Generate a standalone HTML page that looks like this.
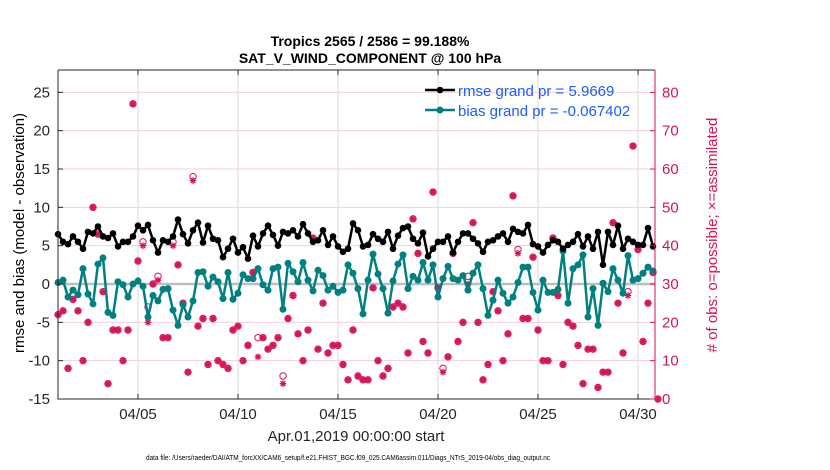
<!DOCTYPE html>
<html><head><meta charset="utf-8"><style>
body{margin:0;background:#fff;}
svg{display:block;font-family:"Liberation Sans",sans-serif;}
</style></head><body>
<svg id="chart" width="830" height="470" viewBox="0 0 830 470">
<text x="370" y="46" text-anchor="middle" font-size="14" font-weight="bold">Tropics 2565 / 2586 = 99.188%</text>
<text x="370" y="63" text-anchor="middle" font-size="14" font-weight="bold">SAT_V_WIND_COMPONENT @ 100 hPa</text>
<g id="grid"></g>
<g id="marks"></g>
<g id="axes"></g>
<text transform="translate(24,233) rotate(-90)" text-anchor="middle" font-size="15">rmse and bias (model - observation)</text>
<text transform="translate(717,235) rotate(-90)" text-anchor="middle" font-size="15" fill="#d6135a"># of obs: o=possible; ×=assimilated</text>
<text x="356" y="441" text-anchor="middle" font-size="15" fill="#262626">Apr.01,2019 00:00:00 start</text>
<text x="348" y="460" text-anchor="middle" font-size="7" fill="#000" textLength="404" lengthAdjust="spacingAndGlyphs">data file: /Users/raeder/DAI/ATM_forcXX/CAM6_setup/f.e21.FHIST_BGC.f09_025.CAM6assim.011/Diags_NTrS_2019-04/obs_diag_output.nc</text>
<g>
<line x1="425" y1="90" x2="455" y2="90" stroke="#000" stroke-width="2.5"/><circle cx="440" cy="90" r="3.3" fill="#000"/>
<text x="458" y="96" font-size="15" fill="#1a5cff">rmse grand pr = 5.9669</text>
<line x1="425" y1="110" x2="455" y2="110" stroke="#008080" stroke-width="2.5"/><circle cx="440" cy="110" r="3.5" fill="#008080"/>
<text x="458" y="116" font-size="15" fill="#1a5cff">bias grand pr = -0.067402</text>
</g>
</svg>
<script>
const rmse=[6.5,5.5,5.2,6.2,5.5,4.6,6.8,6.6,7.5,6.2,6.0,6.6,4.9,5.5,5.5,6.2,7.6,7.0,7.7,5.7,4.1,5.7,5.5,6.2,8.4,6.5,5.3,7.0,8.0,5.4,7.6,5.9,5.7,3.5,4.6,5.9,4.1,4.8,3.3,6.3,4.9,6.6,7.6,6.4,5.0,6.8,6.6,7.0,6.2,7.8,6.6,5.5,5.7,7.0,5.1,6.2,4.9,4.2,4.6,7.9,7.0,4.9,5.1,6.5,5.9,5.5,6.8,4.6,6.3,7.3,7.5,5.9,5.3,6.7,3.6,4.6,5.5,5.5,6.2,4.1,5.5,6.6,6.6,5.9,5.3,4.2,5.5,5.7,6.2,6.6,5.5,7.2,6.8,6.6,7.7,5.2,4.9,4.1,5.1,5.7,5.5,4.6,5.1,5.5,6.5,4.9,6.2,4.6,6.8,2.5,6.8,5.1,7.6,4.6,5.9,5.5,5.1,5.1,7.3,4.9];
const bias=[0.2,0.5,-1.7,-0.8,-1.4,2.0,-1.3,-2.6,2.6,3.4,-3.7,-4.1,0.3,-0.1,-1.7,0,0.4,-0.3,-4.3,-1.5,-2.2,-0.7,-0.6,-3.4,-5.4,-2.7,-4.3,-2.2,1.5,1.6,-0.3,0.9,0.3,-1.9,1.5,-2.0,-1.2,1.2,0.7,0.7,2.0,-0.1,-0.8,2.0,2.2,-3.3,2.7,1.6,0.3,2.8,0.5,-0.9,1.8,1.1,-0.8,-0.3,-1.1,-0.8,2.5,1.4,-0.6,-3.9,0.5,3.9,1.3,-0.6,-3.8,0.4,2.6,3.8,-0.6,1.0,0.5,2.8,0.5,2.5,-1.7,0.7,2.3,0.7,0.5,1.1,-0.8,1.4,2.5,-0.6,-4.1,-2.1,0.5,-1.2,-2.5,-1.7,0.2,2.2,2.2,-1.1,-3.4,0.5,-1.1,-1.1,-0.7,4.3,-2.5,2.0,2.5,3.8,-4.3,-0.6,-5.4,0.1,-1.0,2.0,0.5,-1.2,3.7,0.5,0.7,1.4,2.2,1.7];
const nPossible=[22,23,8,26,23,10,20,50,43,28,4,18,18,10,18,77,36,41,24,30,32,16,16,41,35,25,7,58,19,21,9,21,10,9,8,18,19,10,14,33,16,16,13,14,16,6,21,27,17,10,18,42,13,25,12,14,14,9,5,18,6,5,5,29,10,6,8,24,25,24,12,47,38,15,12,54,29,8,11,38,15,20,32,46,20,5,9,28,23,10,17,53,39,21,21,37,18,10,10,42,27,9,20,19,14,4,13,13,3,7,7,46,25,12,28,66,39,15,25,33,0];
const nAssim=[22,23,8,26,23,10,20,50,43,28,4,18,18,10,18,77,36,40,20,30,31,16,16,40,35,25,7,57,19,21,9,21,10,9,8,18,19,10,14,33,11,16,13,14,16,4,21,27,17,10,18,42,13,25,12,14,14,9,5,18,6,5,5,29,10,6,8,24,25,24,12,47,38,15,12,54,29,7,11,38,15,20,30,46,20,5,9,28,23,10,17,53,38,21,21,37,18,10,10,42,27,9,20,19,14,4,13,13,3,7,7,46,25,12,27,66,39,15,25,33,0];
const leftTicks=[-15,-10,-5,0,5,10,15,20,25];
const rightTicks=[0,10,20,30,40,50,60,70,80];
const dateTicks=[5,10,15,20,25,30];
const dateLabels=["04/05","04/10","04/15","04/20","04/25","04/30"];

const NS="http://www.w3.org/2000/svg";
const X0=58,X1=655,Y0=70,Y1=399,PXDAY=20;
const xDay=d=>X0+d*PXDAY;          // d = days since Apr 1 00:00
const xIdx=i=>xDay(i*0.25);
const yL=v=>284-v*7.667;
const yR=n=>399-n*3.833;
function mk(tag,attrs,parent){const e=document.createElementNS(NS,tag);for(const k in attrs)e.setAttribute(k,attrs[k]);parent.appendChild(e);return e;}
const grid=document.getElementById('grid'),marks=document.getElementById('marks'),axes=document.getElementById('axes');

mk('rect',{x:X0,y:Y0,width:X1-X0,height:Y1-Y0,fill:'#fff'},grid);
leftTicks.forEach(v=>{const l=mk('line',{x1:X0,x2:X1,y1:yL(v),y2:yL(v),stroke:'#f6cfdc','stroke-width':1},grid);

});
dateTicks.forEach(d=>{const l=mk('line',{x1:xDay(d-1),x2:xDay(d-1),y1:Y0,y2:Y1,stroke:'#d9d9d9','stroke-width':1},grid);

});
const zl=mk('line',{x1:X0,x2:X1,y1:yL(0),y2:yL(0),stroke:'#bdbdbd','stroke-width':2.5},grid);



// obs counts
nPossible.forEach((n,i)=>{const x=xIdx(i);
const c=mk('circle',{cx:x,cy:yR(n),r:3.2,fill:'none',stroke:'#d6135a','stroke-width':1},marks);


const a=nAssim[i],y=yR(a);
const g=mk('path',{d:`M${x-3.3},${y}H${x+3.3}M${x},${y-3.3}V${y+3.3}M${x-2.4},${y-2.4}L${x+2.4},${y+2.4}M${x-2.4},${y+2.4}L${x+2.4},${y-2.4}`,stroke:'#d6135a','stroke-width':1.3,fill:'none'},marks);


if(a===n){const f=mk('circle',{cx:x,cy:y,r:2.6,fill:'#d6135a',opacity:0.75},marks);

}
});

function series(vals,color,r,name){
const p=mk('polyline',{points:vals.map((v,i)=>xIdx(i)+','+yL(v)).join(' '),fill:'none',stroke:color,'stroke-width':2.5,'stroke-linejoin':'round'},marks);


vals.forEach((v,i)=>{const c=mk('circle',{cx:xIdx(i),cy:yL(v),r:r,fill:color},marks);

});
}
series(bias,'#008080',3.5,'bias');
series(rmse,'#000',3.3,'rmse');

// axes
const fr=mk('path',{d:`M${X0},${Y0}V${Y1}H${X1}M${X0},${Y0}H${X1}`,stroke:'#262626','stroke-width':1,fill:'none'},axes);


const ra=mk('line',{x1:X1,x2:X1,y1:Y0,y2:Y1,stroke:'#d6135a','stroke-width':1},axes);


leftTicks.forEach(v=>{mk('line',{x1:X0,x2:X0+5,y1:yL(v),y2:yL(v),stroke:'#262626'},axes);
const t=mk('text',{x:X0-8,y:yL(v)+5,'text-anchor':'end','font-size':15,fill:'#262626'},axes);t.textContent=v;

});
rightTicks.forEach(n=>{mk('line',{x1:X1-5,x2:X1,y1:yR(n),y2:yR(n),stroke:'#d6135a'},axes);
const t=mk('text',{x:X1+7,y:yR(n)+5,'font-size':15,fill:'#d6135a'},axes);t.textContent=n;

});
dateTicks.forEach((d,k)=>{const x=xDay(d-1);mk('line',{x1:x,x2:x,y1:Y1,y2:Y1-5,stroke:'#262626'},axes);
mk('line',{x1:x,x2:x,y1:Y0,y2:Y0+5,stroke:'#262626'},axes);
const t=mk('text',{x:x,y:Y1+20,'text-anchor':'middle','font-size':15,fill:'#262626'},axes);t.textContent=dateLabels[k];

});
</script>
</body></html>
